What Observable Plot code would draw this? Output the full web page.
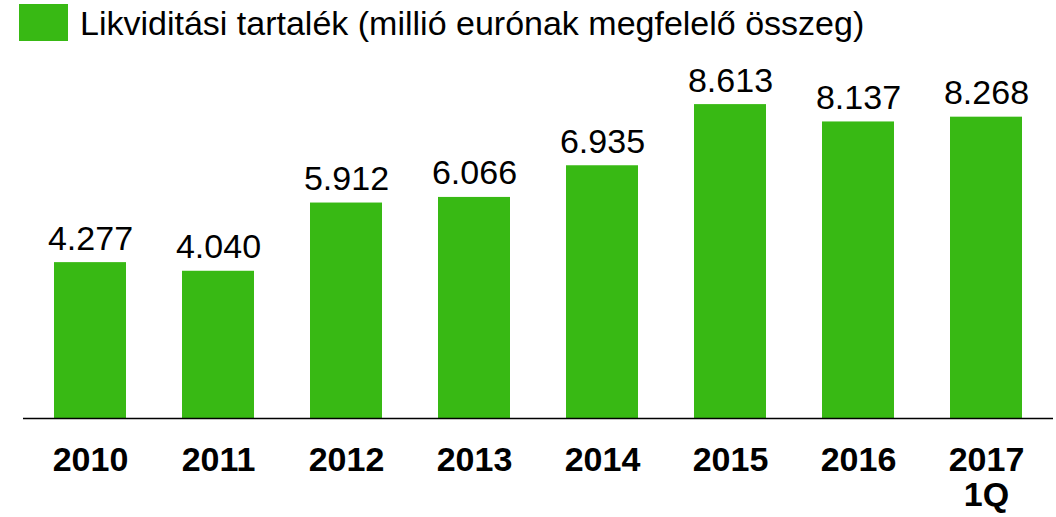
<!DOCTYPE html>
<html>
<head>
<meta charset="utf-8">
<script src="https://cdn.jsdelivr.net/npm/d3@7"></script>
<script src="https://cdn.jsdelivr.net/npm/@observablehq/plot@0.6"></script>
<style>
  html, body { margin: 0; padding: 0; background: #fff; }
  body { width: 1056px; height: 517px; overflow: hidden; font-family: "Liberation Sans", Arial, sans-serif; }
  .legend { position: relative; height: 48px; }
  .legend .sw { position: absolute; left: 19px; top: 4px; width: 49px; height: 37px; background: #38b914; }
  .legend .lb { position: absolute; left: 80px; top: 4px; font-size: 34px; line-height: 38px; color: #000; white-space: nowrap; }
</style>
</head>
<body>
<div class="legend"><div class="sw"></div><div class="lb" id="lb"></div></div>
<div id="chart"></div>
<script>
const seriesName = "Likviditási tartalék (millió eurónak megfelelő összeg)";
const categories = ["2010", "2011", "2012", "2013", "2014", "2015", "2016", "2017 1Q"];
const tickLabels = ["2010", "2011", "2012", "2013", "2014", "2015", "2016", "2017\n1Q"];
const values = [4277, 4040, 5912, 6066, 6935, 8613, 8137, 8268];
const barColor = "#38b914";

document.getElementById("lb").textContent = seriesName;

const fmt = d3.formatLocale({decimal: ",", thousands: ".", grouping: [3], currency: ["", ""]}).format(",d");
const data = categories.map((c, i) => ({cat: c, value: values[i]}));
const labelOf = Object.fromEntries(categories.map((c, i) => [c, tickLabels[i]]));

const chart = Plot.plot({
  width: 1056,
  height: 469,
  marginLeft: 23,
  marginRight: 3,
  marginTop: 42,
  marginBottom: 99,
  style: {fontFamily: "'Liberation Sans', Arial, sans-serif", color: "#000", background: "#fff"},
  x: {domain: categories, padding: 0, label: null},
  y: {domain: [0, 9000], axis: null},
  marks: [
    Plot.barY(data, {x: "cat", y: "value", fill: barColor, insetLeft: 28, insetRight: 28}),
    Plot.ruleY([0], {stroke: "#000", strokeWidth: 1.5}),
    Plot.text(data, {x: "cat", y: "value", text: d => fmt(d.value), dy: -13, lineAnchor: "bottom", fontSize: 34, fill: "#000"}),
    Plot.axisX({tickSize: 0, tickPadding: 28, fontSize: 34, fontWeight: "bold", tickFormat: d => labelOf[d], label: null, lineHeight: 1.03})
  ]
});
document.getElementById("chart").appendChild(chart);
</script>
</body>
</html>
